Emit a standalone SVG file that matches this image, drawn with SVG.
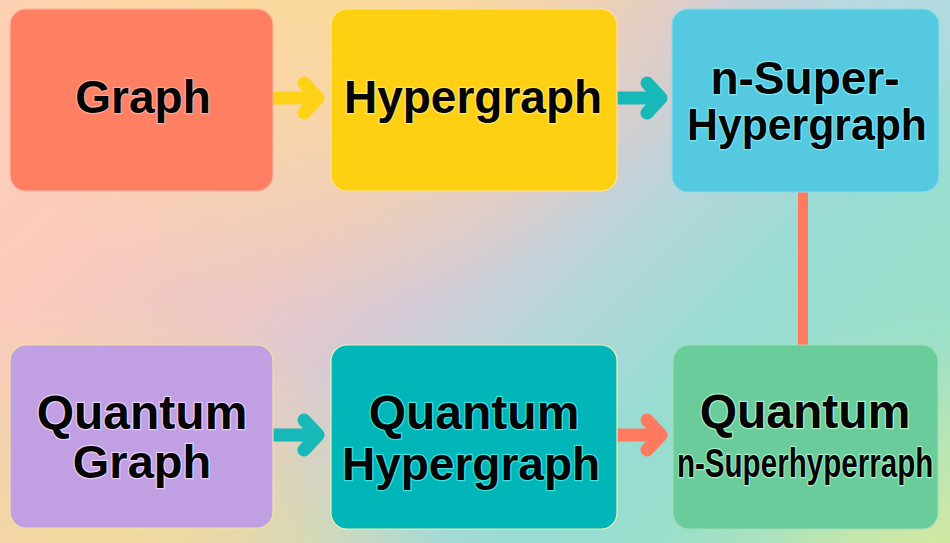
<svg xmlns="http://www.w3.org/2000/svg" width="950" height="543" viewBox="0 0 950 543">
<defs>
<linearGradient id="bgD" x1="100" y1="0" x2="800" y2="700" gradientUnits="userSpaceOnUse">
<stop offset="0" stop-color="#FECDBA"/>
<stop offset="0.15" stop-color="#FBCBBC"/>
<stop offset="0.32" stop-color="#ECC8C6"/>
<stop offset="0.44" stop-color="#D6CAD5"/>
<stop offset="0.55" stop-color="#B6D6DA"/>
<stop offset="0.68" stop-color="#98DCD3"/>
<stop offset="0.85" stop-color="#9ADFC8"/>
<stop offset="1" stop-color="#BCE6B0"/>
</linearGradient>
<radialGradient id="topY" cx="330" cy="-120" r="430" gradientUnits="userSpaceOnUse">
<stop offset="0" stop-color="#FDDD90" stop-opacity="1"/>
<stop offset="0.55" stop-color="#FADC98" stop-opacity="0.6"/>
<stop offset="1" stop-color="#F5DCA0" stop-opacity="0"/>
</radialGradient>
<radialGradient id="topR" cx="920" cy="-60" r="260" gradientUnits="userSpaceOnUse">
<stop offset="0" stop-color="#B8DCE6" stop-opacity="0.8"/>
<stop offset="1" stop-color="#B8DCE6" stop-opacity="0"/>
</radialGradient>
<radialGradient id="botL" cx="120" cy="640" r="340" gradientUnits="userSpaceOnUse">
<stop offset="0" stop-color="#F8DE8E" stop-opacity="1"/>
<stop offset="0.6" stop-color="#F6DE90" stop-opacity="0.5"/>
<stop offset="1" stop-color="#F6DE90" stop-opacity="0"/>
</radialGradient>
<radialGradient id="botR" cx="940" cy="600" r="300" gradientUnits="userSpaceOnUse">
<stop offset="0" stop-color="#E2E898" stop-opacity="0.95"/>
<stop offset="0.5" stop-color="#C8E8AA" stop-opacity="0.5"/>
<stop offset="1" stop-color="#B0E6C0" stop-opacity="0"/>
</radialGradient>
<style>
.box{stroke-width:1.2}
.t{font-family:"Liberation Sans",Arial,sans-serif;font-weight:bold;text-anchor:middle;fill:#050505;paint-order:stroke;stroke-width:2.5;stroke-linejoin:round}
.shaft{fill:none;stroke-width:13}
.head{fill:none;stroke-width:13;stroke-linecap:round;stroke-linejoin:round}
</style>
</defs>
<rect width="950" height="543" fill="url(#bgD)"/>
<rect width="950" height="543" fill="url(#topY)"/>
<rect width="950" height="543" fill="url(#topR)"/>
<rect width="950" height="543" fill="url(#botL)"/>
<rect width="950" height="543" fill="url(#botR)"/>

<g id="connectors">
<line x1="803" y1="191" x2="803" y2="346" stroke="#FF7A5E" stroke-width="10"/>
<path class="shaft" stroke="#FFD21A" d="M273,98 H316"/>
<polyline class="head" stroke="#FFD21A" points="304,83 318,98 304,113"/>
<path class="shaft" stroke="#17B8B8" d="M616,98 H659"/>
<polyline class="head" stroke="#17B8B8" points="647,83 661,98 647,113"/>
<path class="shaft" stroke="#17B8B8" d="M273,435 H316"/>
<polyline class="head" stroke="#17B8B8" points="304,420 318,435 304,450"/>
<path class="shaft" stroke="#FF7A5E" d="M616,435 H659"/>
<polyline class="head" stroke="#FF7A5E" points="647,420 661,435 647,450"/>
</g>

<g id="graph">
<rect class="box" x="10" y="9" width="263" height="182" rx="16" fill="#FF7F62" stroke="#FFB4A0"/>
<text class="t" x="143" y="113" font-size="46" stroke="#FFA898">Graph</text>
</g>
<g id="hypergraph">
<rect class="box" x="331" y="9" width="286" height="182" rx="16" fill="#FFD012" stroke="#FBE59A"/>
<text class="t" x="473" y="113" font-size="46" stroke="#FFE46A">Hypergraph</text>
</g>
<g id="n-super-hypergraph">
<rect class="box" x="672" y="9" width="267" height="183" rx="16" fill="#55C9E0" stroke="#8ADCEB"/>
<text class="t" x="805" y="94" font-size="46" stroke="#7FE6F4">n-Super-</text>
<text class="t" x="807" y="140" font-size="45" textLength="240" lengthAdjust="spacingAndGlyphs" stroke="#7FE6F4">Hypergraph</text>
</g>
<g id="quantum-graph">
<rect class="box" x="10" y="345" width="263" height="183" rx="16" fill="#C19FE3" stroke="#F1E2A8"/>
<text class="t" x="142" y="429" font-size="48" stroke="#E6D0FA">Quantum</text>
<text class="t" x="142" y="478" font-size="47" stroke="#E6D0FA">Graph</text>
</g>
<g id="quantum-hypergraph">
<rect class="box" x="331" y="345" width="286" height="184" rx="16" fill="#00B6B8" stroke="#EAF0B8"/>
<text class="t" x="474" y="429" font-size="48" stroke="#3FE0E0">Quantum</text>
<text class="t" x="471" y="480" font-size="46" stroke="#3FE0E0">Hypergraph</text>
</g>
<g id="quantum-n-superhyperraph">
<rect class="box" x="673" y="345" width="265" height="184" rx="16" fill="#6ACB9B" stroke="#9EDDB8"/>
<text class="t" x="805" y="428" font-size="48" stroke="#A8F0C8">Quantum</text>
<text class="t" transform="scale(0.74,1)" x="1088" y="477" font-size="40" stroke="#A8F0C8">n-Superhyperraph</text>
</g>
</svg>
